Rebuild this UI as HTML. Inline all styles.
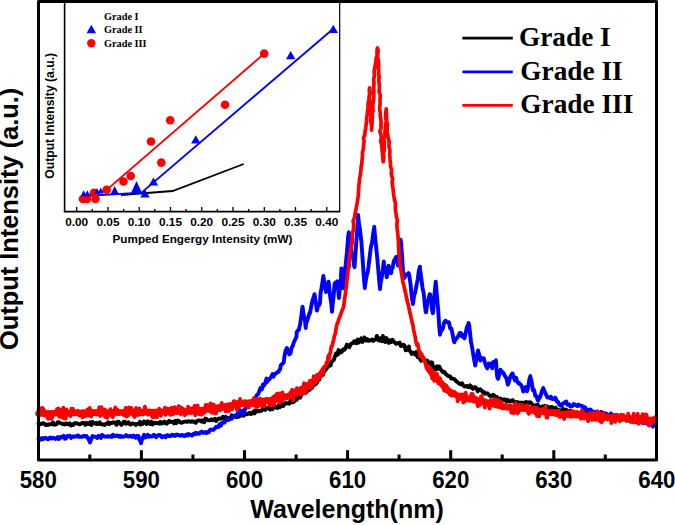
<!DOCTYPE html>
<html><head><meta charset="utf-8"><style>
html,body{margin:0;padding:0;background:#fff;}
body{width:675px;height:525px;overflow:hidden;}
svg{display:block;}
text{font-family:"Liberation Sans",sans-serif;font-weight:bold;}
.serif{font-family:"Liberation Serif",serif;font-weight:bold;}
</style></head><body>
<svg width="675" height="525" viewBox="0 0 675 525">
<rect width="675" height="525" fill="#fff"/>
<!-- curves -->
<g fill="none" stroke-width="3.4" stroke-linejoin="round" stroke-linecap="round">
<path stroke="#000" stroke-width="3.9" d="M38.5 423.7L39.7 424.5L40.9 423.8L42.1 423.7L43.3 423.1L44.5 423.8L45.7 425.1L46.9 424.4L48.1 425.0L49.3 424.2L50.5 424.3L51.7 424.1L52.9 422.3L54.1 424.8L55.3 424.4L56.5 424.4L57.7 422.2L58.9 422.2L60.1 423.0L61.3 423.4L62.5 424.2L63.7 423.8L64.9 424.4L66.1 423.2L67.3 424.1L68.5 424.2L69.7 423.2L70.9 425.5L72.1 424.4L73.3 425.0L74.5 423.2L75.7 423.1L76.9 423.4L78.1 423.7L79.3 424.4L80.5 424.0L81.7 423.3L82.9 422.8L84.1 423.2L85.3 424.9L86.5 422.9L87.7 424.0L88.9 424.1L90.0 422.2L90.1 423.7L91.3 425.0L92.5 421.9L93.7 423.4L94.9 423.6L96.1 422.8L97.3 424.1L98.5 423.6L99.7 422.2L100.9 424.4L102.1 424.3L103.3 424.5L104.5 425.0L105.7 423.9L106.9 423.7L108.1 422.3L109.3 424.2L110.5 422.9L111.7 423.1L112.9 422.3L114.1 422.5L115.3 423.0L116.5 424.8L117.7 421.7L118.9 422.0L120.1 423.7L121.3 424.9L122.5 424.0L123.7 421.6L124.9 421.6L126.1 423.8L127.3 422.7L128.5 422.3L129.7 424.3L130.9 424.5L132.1 423.5L133.3 423.6L134.5 423.8L135.7 424.9L136.9 423.9L138.1 423.8L139.3 423.8L140.0 421.7L140.5 424.6L141.7 424.2L142.9 423.7L144.1 421.4L145.3 422.5L146.5 423.9L147.7 421.2L148.9 422.8L150.1 424.0L151.3 421.6L152.5 424.5L153.7 423.4L154.9 422.6L156.1 423.1L157.3 423.3L158.5 422.8L159.7 423.7L160.0 421.9L160.9 422.1L162.1 423.5L163.3 422.5L164.5 421.5L165.7 423.3L166.9 423.7L168.1 421.8L169.3 420.8L170.5 422.0L171.7 421.9L172.9 421.7L174.1 423.4L175.3 420.9L176.5 423.1L177.7 420.5L178.9 421.0L180.1 422.3L181.3 422.8L182.5 422.4L183.7 421.9L184.9 421.6L186.1 421.6L187.3 421.9L188.5 421.1L189.7 421.5L190.9 421.8L192.1 421.1L193.3 421.8L194.5 421.6L195.7 422.8L196.9 421.2L198.1 420.4L199.3 420.4L200.5 420.8L201.7 421.6L201.9 420.4L202.9 421.0L204.1 422.3L205.3 418.5L206.5 419.1L207.7 420.3L208.9 420.4L210.1 420.1L211.3 419.3L212.5 420.2L213.7 419.7L214.9 418.8L216.1 421.0L217.3 419.4L218.5 418.4L219.7 418.7L220.9 418.5L222.1 418.5L222.9 416.7L223.3 417.9L224.5 419.2L225.7 416.9L226.9 417.7L228.1 418.5L229.3 418.2L230.5 418.6L231.7 415.3L232.9 416.4L234.1 416.2L235.3 416.9L236.5 417.2L237.7 414.1L238.9 416.8L240.0 414.1L240.1 416.1L241.3 413.7L242.5 415.0L243.7 415.7L244.9 414.0L246.1 414.1L247.3 414.3L248.5 413.4L249.7 412.8L250.9 414.1L252.1 413.3L253.3 411.7L254.5 413.4L255.0 410.4L255.7 412.3L256.9 410.8L258.1 411.0L259.3 411.3L260.5 410.6L261.7 410.7L262.9 408.3L264.1 408.1L265.3 409.9L266.5 408.1L267.7 407.8L268.9 407.1L270.1 409.6L271.3 408.8L272.5 409.3L273.7 406.6L274.0 407.5L274.9 406.1L276.1 407.6L277.3 408.0L278.5 405.2L279.7 407.3L280.9 406.3L282.0 404.8L282.1 403.2L283.3 405.9L284.5 403.9L285.7 403.0L286.9 403.5L288.1 403.1L289.3 403.7L290.5 400.7L291.7 402.4L292.9 402.3L294.1 401.8L295.0 399.8L295.3 399.0L296.5 399.9L297.7 398.1L298.9 397.2L300.1 397.6L301.3 395.0L302.5 392.5L303.7 393.1L304.9 390.7L306.1 392.4L307.3 391.0L308.5 389.2L309.6 389.0L309.7 389.7L310.9 387.7L312.1 387.7L313.3 385.0L314.5 384.8L315.7 384.0L316.9 382.9L318.1 379.3L319.3 379.6L320.0 376.2L320.5 376.2L321.7 373.8L322.9 374.9L324.1 370.9L325.3 370.4L326.5 368.5L327.7 367.0L328.9 364.7L330.1 363.9L330.7 365.5L331.3 361.9L332.5 361.1L333.7 360.1L334.9 356.7L336.1 353.4L337.3 352.8L337.8 354.7L338.5 350.0L339.7 350.8L340.9 352.5L342.1 351.3L343.3 349.3L344.5 349.7L345.7 347.9L346.7 345.2L346.9 344.5L348.1 345.4L349.3 347.3L350.5 344.4L351.7 343.4L352.9 343.0L354.1 341.3L355.3 343.0L355.6 341.2L356.5 343.3L357.7 339.5L358.9 342.5L360.1 340.6L361.3 338.4L362.5 341.9L363.7 340.0L364.4 337.4L364.9 338.8L366.1 340.4L367.3 339.0L368.5 340.8L369.7 340.5L370.9 340.2L372.1 339.5L373.3 340.9L374.5 339.8L375.7 339.4L376.9 335.9L378.1 340.0L379.3 340.6L380.5 338.1L381.7 337.8L382.2 341.3L382.9 336.0L384.1 339.7L385.3 342.0L386.5 338.1L387.7 340.9L388.9 342.9L390.1 340.2L391.1 341.5L391.3 342.1L392.5 339.8L393.7 341.5L394.9 342.6L396.1 343.9L397.3 343.1L398.5 343.3L399.7 342.5L400.0 343.6L400.9 346.1L402.1 345.6L403.3 344.8L404.5 345.5L405.7 350.3L406.9 349.9L408.1 349.8L408.9 346.5L409.3 350.5L410.5 351.2L411.7 353.9L412.9 352.8L414.1 352.9L415.3 354.6L416.5 351.9L417.7 357.1L417.8 356.1L418.9 355.3L420.1 359.2L421.3 360.8L422.5 356.7L423.7 358.7L424.9 361.0L426.1 361.7L426.7 361.2L427.3 360.6L428.5 365.6L429.7 365.0L430.9 362.3L432.1 362.7L433.3 368.1L434.5 367.6L435.6 369.5L435.7 368.0L436.9 366.3L438.1 368.8L439.3 366.5L440.5 369.3L441.7 370.8L442.9 372.2L444.1 371.8L445.3 373.3L445.9 374.3L446.5 374.6L447.7 375.7L448.9 376.2L450.1 376.5L451.3 378.5L452.5 378.6L453.7 378.6L454.9 379.7L456.1 381.2L457.3 381.9L458.5 383.1L459.7 383.8L460.0 384.2L460.9 384.2L462.1 383.4L463.3 385.5L464.5 386.5L465.7 386.3L466.9 386.0L468.1 387.0L469.3 386.0L470.0 385.4L470.5 387.4L471.7 386.8L472.9 388.9L474.1 387.5L475.3 387.2L476.5 388.4L477.7 391.3L478.9 389.8L480.1 389.2L481.3 390.2L482.5 391.9L483.7 392.3L484.0 392.1L484.9 393.7L486.1 393.5L487.3 393.3L488.5 394.4L489.7 395.9L490.9 395.8L492.1 396.3L493.3 394.7L494.5 396.1L495.7 397.5L496.9 397.0L498.1 398.9L499.3 398.9L500.0 399.5L500.5 398.5L501.7 400.7L502.9 400.4L504.1 399.2L505.3 399.8L506.5 401.7L507.7 399.8L508.9 401.3L510.1 401.6L511.3 400.9L512.5 400.0L513.7 401.5L514.4 401.9L514.9 402.7L516.1 402.5L517.3 402.0L518.5 402.9L519.7 402.8L520.9 402.7L522.1 402.7L523.3 402.6L524.5 403.7L525.7 402.1L526.9 402.7L528.0 403.5L528.1 402.1L529.3 403.4L530.5 402.3L531.7 403.7L532.9 405.3L534.1 405.6L535.3 405.3L536.5 405.4L537.7 404.5L538.9 408.0L540.1 407.0L541.3 407.9L542.5 406.3L543.7 407.2L544.9 405.9L546.0 408.8L546.1 408.9L547.3 406.4L548.5 408.3L549.7 409.1L550.9 406.9L552.1 407.0L553.3 407.9L554.5 408.4L555.7 407.8L556.9 409.4L558.1 409.8L559.3 410.3L560.5 410.5L561.7 411.5L562.0 411.2L562.9 408.9L564.1 410.0L565.3 409.7L566.5 410.0L567.7 411.3L568.9 411.6L570.1 412.4L570.4 410.4L571.3 410.9L572.5 412.3L573.7 412.3L574.9 412.4L576.1 412.8L577.3 412.3L578.5 413.9L579.7 413.8L580.9 413.5L582.1 413.1L583.3 413.8L584.5 412.4L585.7 413.4L586.9 414.6L588.1 413.2L589.3 415.1L590.5 415.2L591.7 413.9L592.9 415.2L594.1 415.3L595.3 416.3L596.5 416.6L597.7 416.2L598.9 415.5L600.1 416.4L601.3 416.7L602.5 417.7L603.0 417.3L603.7 416.3L604.9 415.8L606.1 416.9L607.3 416.6L608.5 416.4L609.7 417.4L610.9 417.2L612.1 417.9L613.3 418.4L614.5 417.5L615.7 419.9L616.9 417.8L618.1 419.3L619.3 418.5L620.5 419.6L621.7 416.7L622.9 417.9L624.1 419.0L625.3 419.4L626.5 420.7L627.7 419.4L628.9 420.4L630.1 420.0L631.3 420.3L632.5 419.9L633.7 419.4L634.9 420.1L636.1 418.7L637.3 421.0L638.5 418.9L639.7 420.3L640.9 421.9L642.1 420.0L643.3 420.4L644.5 421.6L645.7 420.6L646.9 419.8L648.1 421.0L649.3 421.4L650.5 421.6L651.7 420.3L652.9 422.9L654.1 422.9L655.0 421.3"/>
<path stroke="#0000ff" stroke-width="3.9" d="M38.5 439.0L39.7 438.4L40.9 439.8L42.1 438.0L43.3 439.0L44.5 438.0L45.7 437.8L46.9 438.8L48.1 439.3L49.3 438.1L50.5 437.5L51.7 438.6L52.9 437.8L54.1 438.0L55.3 439.0L56.5 438.6L57.7 437.1L58.9 439.0L60.0 437.4L60.1 438.0L61.3 436.8L62.5 437.3L63.7 435.8L64.9 438.7L66.1 438.3L67.3 436.1L68.5 435.8L69.7 435.6L70.9 437.9L72.1 436.5L73.3 436.8L74.5 436.5L75.7 436.6L76.9 435.8L78.0 436.6L78.1 435.4L79.3 436.5L80.5 436.8L81.7 436.9L82.9 436.3L84.1 435.7L85.3 436.6L86.5 436.0L87.5 437.7L87.7 437.6L88.9 440.0L90.0 442.6L90.1 442.2L91.3 438.8L92.5 436.1L93.7 436.6L94.9 436.8L96.1 436.9L97.3 437.9L98.5 435.8L99.7 436.4L100.9 437.9L102.1 434.9L103.3 435.9L104.5 436.5L105.7 436.5L106.9 436.7L108.1 436.1L109.3 436.6L110.5 436.4L111.7 437.0L112.9 434.8L114.1 435.6L115.3 436.3L116.5 435.5L117.7 435.4L118.9 436.8L120.0 435.8L120.1 436.8L121.3 436.9L122.5 436.5L123.7 436.7L124.9 436.2L126.1 435.1L127.3 436.2L128.5 436.6L129.7 435.8L130.9 436.2L132.1 436.9L133.3 435.5L134.5 436.7L135.7 437.7L136.9 435.8L138.1 436.3L138.5 436.1L139.3 439.5L140.5 441.5L141.0 443.2L141.7 440.2L142.9 437.7L143.5 436.2L144.1 434.7L145.3 437.4L146.5 436.9L147.7 434.7L148.9 436.7L150.1 436.0L151.3 436.5L152.5 436.4L153.7 434.8L154.9 435.9L156.1 437.3L157.3 435.6L158.5 435.2L159.7 434.9L160.0 435.0L160.9 436.2L162.1 437.3L163.3 436.2L164.5 436.1L165.7 437.3L166.9 435.3L168.1 435.2L169.3 436.1L170.5 436.1L171.7 434.8L172.9 434.6L174.1 435.8L175.3 435.7L176.5 434.4L177.7 435.2L178.9 434.9L180.1 435.7L181.0 435.2L181.3 435.2L182.5 434.9L183.7 435.9L184.9 436.1L186.1 434.6L187.3 435.5L188.5 434.0L189.7 434.6L190.9 435.1L192.1 435.6L193.3 433.9L194.5 434.1L195.0 434.3L195.7 432.8L196.9 433.8L198.1 433.1L199.3 433.7L200.5 432.3L201.7 431.5L202.9 432.9L204.1 432.9L205.3 432.0L206.5 433.0L207.7 431.9L208.3 431.5L208.9 432.1L210.1 429.7L211.3 429.7L212.5 429.6L213.7 429.7L214.5 428.4L214.9 428.5L216.1 426.8L217.3 426.8L218.5 427.1L219.7 424.3L220.9 425.6L221.7 423.0L222.1 423.3L223.3 422.7L224.5 422.6L225.7 420.0L226.9 418.8L228.1 420.1L229.3 419.5L230.5 418.7L231.7 418.9L232.9 416.8L234.1 416.2L235.0 416.2L235.3 415.5L236.5 415.9L237.7 412.9L238.9 412.9L240.1 410.2L241.3 413.0L242.5 410.8L243.7 411.8L243.9 412.9L244.9 409.4L246.1 407.7L247.3 406.1L248.5 404.3L249.7 403.3L250.9 403.6L252.1 401.5L253.3 400.2L254.5 398.6L254.8 399.7L255.7 397.7L256.9 395.0L258.1 394.2L259.3 391.2L260.5 388.0L261.7 389.5L262.7 386.6L262.9 384.5L264.1 385.5L265.3 382.8L266.5 378.6L266.7 382.5L267.7 380.1L268.9 380.0L270.1 378.2L271.3 376.8L272.5 374.1L273.7 376.6L273.8 375.2L274.9 373.8L276.1 373.5L277.3 372.1L278.5 371.8L279.7 369.3L280.0 369.5L280.9 365.0L282.1 364.1L283.3 362.8L283.7 362.8L284.5 356.2L285.7 350.0L286.2 349.8L286.9 348.0L288.1 351.3L289.3 354.4L290.0 353.1L290.5 353.4L291.7 347.5L292.9 345.6L293.0 344.9L294.1 341.7L295.3 339.3L296.5 336.5L296.7 332.3L297.7 330.6L298.9 329.8L299.5 326.5L300.1 324.5L301.3 316.2L302.5 306.6L303.7 315.3L304.9 319.8L305.7 328.1L306.1 323.4L307.3 320.4L308.5 316.4L309.7 312.5L310.0 313.2L310.9 308.1L312.1 302.1L313.3 298.1L314.3 295.2L314.5 294.1L315.7 302.0L316.9 310.6L317.1 310.4L318.1 304.7L319.3 305.0L320.0 302.6L320.5 293.7L321.7 287.2L322.9 278.9L323.4 276.0L324.1 280.6L325.3 288.0L326.0 292.0L326.5 291.7L327.7 288.2L328.6 281.6L328.9 284.3L330.1 296.0L331.3 303.7L332.0 311.9L332.5 306.4L333.7 295.0L334.6 283.9L334.9 283.2L336.1 282.4L337.2 281.4L337.3 281.5L338.5 293.3L338.9 298.0L339.7 289.8L340.9 277.4L341.4 268.4L342.1 275.5L343.2 284.0L343.3 288.3L344.5 274.0L345.7 264.3L346.9 252.4L348.1 237.0L348.8 232.2L349.3 235.2L350.5 241.5L351.3 250.4L351.7 253.8L352.9 255.9L354.1 266.0L354.5 267.3L355.3 256.2L356.5 238.9L357.7 222.8L358.1 214.9L358.9 222.8L360.1 230.4L361.0 239.1L361.3 240.8L362.5 257.5L363.7 275.7L364.8 288.2L364.9 286.8L366.1 278.9L367.3 272.9L367.6 272.7L368.5 266.6L369.7 256.4L370.5 250.2L370.9 247.1L372.1 242.2L373.3 232.8L374.3 226.8L374.5 231.0L375.7 242.4L376.9 254.6L377.1 256.3L378.1 267.6L379.3 281.9L380.0 289.1L380.5 283.5L381.7 277.7L382.9 269.2L383.8 261.5L384.1 265.4L385.3 269.4L386.5 274.8L386.7 277.3L387.7 273.1L388.6 265.7L388.9 267.7L390.1 267.5L391.3 273.0L391.4 269.8L392.5 268.3L393.7 261.5L394.9 259.3L395.2 259.7L396.1 256.9L397.3 262.1L398.1 265.5L398.5 260.2L399.7 246.1L400.6 239.7L400.9 241.5L402.1 256.2L403.3 276.9L403.4 274.6L404.5 277.9L405.7 274.4L406.9 274.5L408.1 275.1L408.6 273.1L409.3 275.8L410.5 283.7L411.7 296.2L412.9 304.0L414.1 295.7L415.3 292.0L416.5 285.5L417.7 279.6L418.9 270.0L420.0 266.7L420.1 269.2L421.3 278.3L422.5 287.8L423.7 293.3L424.9 305.4L425.7 312.1L426.1 312.3L427.3 303.2L428.5 298.9L429.7 294.2L430.0 294.2L430.9 298.9L432.1 310.0L432.9 313.2L433.3 310.0L434.5 294.7L435.7 281.6L436.9 295.2L438.1 308.6L439.3 327.3L440.0 334.7L440.5 332.2L441.7 330.3L442.9 328.4L444.1 322.6L445.3 320.8L445.7 320.8L446.5 322.0L447.7 322.5L448.9 322.2L450.1 328.4L451.3 328.9L451.4 328.6L452.5 333.6L453.7 340.3L454.3 342.3L454.9 340.5L456.1 339.1L457.3 337.5L458.5 335.7L459.7 333.1L460.0 335.2L460.9 333.0L462.1 336.6L463.3 335.0L464.3 337.6L464.5 338.4L465.7 332.8L466.9 327.5L468.1 324.6L468.6 323.1L469.3 326.0L470.5 337.2L471.0 342.2L471.7 345.1L472.9 352.2L474.1 359.6L475.2 365.5L475.3 365.2L476.5 359.0L477.7 351.9L478.1 350.4L478.9 353.6L480.1 358.9L480.4 360.5L481.3 357.7L482.5 358.7L483.3 358.5L483.7 358.2L484.9 362.5L486.1 366.2L486.3 365.8L487.3 368.4L488.5 363.6L489.7 365.7L490.9 363.6L492.1 367.3L492.2 368.4L493.3 362.0L494.5 362.9L495.7 361.7L495.9 360.3L496.9 374.3L497.4 377.6L498.1 378.9L499.3 374.4L500.4 370.4L500.5 369.7L501.7 372.5L502.9 372.2L504.1 374.3L505.3 376.7L506.5 378.3L507.7 384.1L507.8 384.7L508.9 382.4L510.1 377.1L511.3 375.0L512.2 373.4L512.5 373.4L513.7 377.2L514.9 380.4L515.9 378.8L516.1 377.7L517.3 381.8L518.5 383.3L518.9 382.7L519.7 384.2L520.9 384.7L522.1 387.0L523.3 391.6L524.5 388.7L525.7 387.0L526.9 387.6L527.0 391.3L528.1 387.4L529.3 379.9L530.4 376.0L530.5 377.8L531.7 382.0L532.9 390.2L533.0 388.8L534.1 390.0L535.3 395.9L536.5 396.2L537.7 400.1L538.1 400.7L538.9 398.7L540.1 397.2L541.3 393.4L542.5 389.6L543.3 388.0L543.7 389.4L544.9 392.0L546.1 394.8L547.0 396.4L547.3 397.3L548.5 397.7L549.7 397.4L550.7 398.4L550.9 396.8L552.1 398.6L553.3 399.1L554.5 398.7L555.2 397.6L555.7 398.3L556.9 401.5L558.1 401.9L559.3 404.6L560.4 405.7L560.5 405.3L561.7 405.6L562.9 403.5L564.1 403.0L565.3 402.0L566.3 401.5L566.5 403.6L567.7 404.8L568.9 404.3L570.0 405.7L570.1 406.2L571.3 405.8L572.5 406.1L573.7 404.1L574.9 404.5L576.1 405.4L577.3 406.2L577.8 405.1L578.5 404.6L579.7 405.5L580.9 405.7L582.1 406.0L583.3 408.4L584.5 407.1L585.7 408.1L586.9 410.1L588.1 410.0L589.3 409.8L590.5 409.5L591.7 410.8L592.9 412.3L594.1 411.9L595.3 412.9L595.6 412.1L596.5 412.6L597.7 412.2L598.9 412.9L600.1 413.8L601.3 411.8L602.5 413.1L603.7 413.6L604.9 413.1L606.1 413.5L607.3 414.6L608.5 415.7L609.7 414.9L610.4 414.8L610.9 413.4L612.1 416.5L613.3 415.3L614.5 415.6L615.7 415.0L616.9 416.2L618.1 415.7L619.3 416.9L620.5 417.6L621.7 417.5L622.9 418.1L624.1 417.5L625.3 419.7L626.5 418.3L627.7 417.6L628.9 419.3L630.1 419.1L631.0 419.2L631.3 419.8L632.5 420.6L633.7 419.6L634.9 420.8L636.1 422.3L637.3 422.0L638.5 421.6L639.7 422.1L640.9 422.2L642.1 422.5L643.3 423.4L644.5 423.0L645.7 421.9L646.9 423.6L648.1 423.2L649.3 424.7L650.5 424.0L651.7 424.9L652.9 426.5L654.1 424.4L655.0 424.6"/>
<path stroke="#ff0000" stroke-width="6.5" d="M38.5 413.5L90.0 412.7L140.0 412.2L195.0 411.3L221.7 407.0L240.0 404.0L248.3 403.0L255.0 401.7L274.0 400.0L293.0 395.0L300.0 391.5L309.6 385.0L320.0 375.5L322.0 372.5M428.0 367.6L428.6 368.6L434.1 376.3L448.9 391.1L460.0 397.0L482.0 401.5L504.0 406.8L527.0 408.8L549.0 412.5L560.0 414.0L603.0 417.0L655.0 420.5"/>
<path stroke="#ff0000" stroke-width="3.7" d="M38.5 409.2L39.3 408.0L40.1 408.0L40.9 414.6L41.7 411.5L42.5 407.9L43.3 408.9L44.1 415.3L44.9 411.1L45.7 412.3L46.5 414.4L47.3 417.5L48.1 418.9L48.9 416.5L49.7 413.8L50.5 413.9L51.3 418.8L52.1 417.6L52.9 412.3L53.7 414.6L54.5 414.1L55.3 413.4L56.1 411.7L56.9 409.2L57.7 411.6L58.5 408.5L59.3 416.9L60.1 414.8L60.9 409.5L61.7 417.4L62.5 415.8L63.3 407.6L64.1 418.6L64.9 415.5L65.7 418.6L66.5 409.3L67.3 414.7L68.1 414.3L68.9 413.6L69.7 413.5L70.5 416.2L71.3 408.5L72.1 409.2L72.9 408.7L73.7 411.3L74.5 411.1L75.3 414.0L76.1 413.7L76.9 413.0L77.7 410.8L78.5 411.5L79.3 415.7L80.1 415.2L80.9 413.1L81.7 411.9L82.5 417.5L83.3 411.0L84.1 414.8L84.9 416.3L85.7 412.0L86.5 415.3L87.3 409.4L88.1 415.8L88.9 413.3L89.7 407.9L90.0 414.7L90.5 410.0L91.3 416.6L92.1 410.6L92.9 412.2L93.7 413.5L94.5 411.6L95.3 413.4L96.1 411.0L96.9 414.7L97.7 412.6L98.5 413.3L99.3 407.1L100.1 416.1L100.9 412.7L101.7 407.2L102.5 412.9L103.3 414.0L104.1 415.8L104.9 409.3L105.7 417.2L106.5 412.1L107.3 418.0L108.1 412.1L108.9 414.6L109.7 411.4L110.5 409.1L111.3 415.8L112.1 415.2L112.9 417.1L113.7 415.1L114.5 410.7L115.3 407.4L116.1 410.5L116.9 410.4L117.7 410.0L118.5 414.2L119.3 413.4L120.1 411.6L120.9 412.9L121.7 411.9L122.5 413.0L123.3 414.6L124.1 415.3L124.9 410.3L125.7 407.8L126.5 416.7L127.3 412.7L128.1 415.7L128.9 407.3L129.7 411.3L130.5 412.4L131.3 407.9L132.1 410.7L132.9 414.5L133.7 415.5L134.5 417.1L135.3 409.6L136.1 408.0L136.9 413.8L137.7 415.1L138.5 412.8L139.3 408.3L140.0 414.6L140.1 414.6L140.9 413.9L141.7 410.7L142.5 413.1L143.3 414.5L144.1 410.4L144.9 406.6L145.7 413.1L146.5 413.5L147.3 412.1L148.1 414.8L148.9 410.3L149.7 411.8L150.5 411.1L151.3 413.7L152.1 416.8L152.9 411.2L153.7 417.5L154.5 416.6L155.3 414.3L156.1 413.7L156.9 417.3L157.7 411.4L158.5 411.6L159.3 408.7L160.1 413.3L160.9 415.9L161.7 413.5L162.5 413.1L163.3 411.2L164.1 412.3L164.9 407.5L165.7 415.0L166.5 410.5L167.3 408.4L168.1 409.5L168.9 409.2L169.7 414.3L170.5 414.9L171.3 407.6L172.1 414.5L172.9 414.3L173.7 409.9L174.5 407.1L175.3 409.4L176.1 409.7L176.9 412.6L177.7 410.5L178.5 406.1L179.3 412.3L180.1 406.9L180.9 414.3L181.7 407.9L182.5 409.4L183.3 408.9L184.1 409.8L184.9 415.4L185.7 414.0L186.5 413.3L187.3 412.4L188.1 406.7L188.9 409.8L189.7 409.7L190.5 408.4L191.3 412.9L192.1 409.1L192.9 409.2L193.7 408.2L194.5 405.8L195.0 413.1L195.3 415.3L196.1 411.7L196.9 408.0L197.7 405.4L198.5 411.3L199.3 414.3L200.1 411.4L200.9 413.2L201.7 414.7L202.5 413.5L203.3 408.6L204.1 413.0L204.9 412.1L205.7 404.9L206.5 408.2L207.3 405.0L208.1 408.9L208.9 410.8L209.7 405.7L210.5 403.3L211.3 412.6L212.1 409.7L212.9 412.9L213.7 404.3L214.5 411.4L215.3 413.5L216.1 413.4L216.9 407.1L217.7 408.5L218.5 407.0L219.3 410.4L220.1 410.4L220.9 407.4L221.7 402.9L222.5 409.1L223.3 405.3L224.1 408.5L224.9 407.3L225.7 411.3L226.5 409.7L227.3 404.7L228.1 407.0L228.9 411.2L229.7 404.1L230.5 406.9L231.3 409.0L232.1 409.1L232.9 406.7L233.7 401.0L234.5 401.1L235.3 405.5L236.1 405.8L236.9 410.0L237.7 401.8L238.5 407.7L239.3 406.4L240.0 398.9L240.1 401.5L240.9 404.4L241.7 402.3L242.5 403.2L243.3 405.0L244.1 401.1L244.9 404.8L245.7 401.4L246.5 401.6L247.3 404.7L248.1 401.3L248.3 403.9L248.9 407.7L249.7 402.8L250.5 402.1L251.3 404.6L252.1 401.2L252.9 405.4L253.7 398.1L254.5 403.7L255.0 400.2L255.3 399.3L256.1 407.0L256.9 399.0L257.7 406.8L258.5 403.4L259.3 405.7L260.1 398.3L260.9 404.8L261.7 405.5L262.5 400.7L263.3 400.6L264.1 406.4L264.9 401.4L265.7 399.5L266.5 398.8L267.3 401.9L268.1 401.5L268.9 401.0L269.7 405.6L270.5 399.3L271.3 401.7L272.1 404.6L272.9 397.1L273.7 403.2L274.0 405.5L274.5 395.8L275.3 396.3L276.1 396.3L276.9 393.7L277.7 400.4L278.5 393.3L279.3 400.1L280.1 402.8L280.9 393.3L281.7 397.0L282.5 392.3L283.3 399.9L284.1 395.1L284.9 396.3L285.7 397.1L286.5 398.4L287.3 395.5L288.1 396.3L288.9 394.4L289.7 396.2L290.5 392.1L291.3 395.6L292.1 389.7L292.9 393.5L293.0 400.5L293.7 394.9L294.5 390.4L295.3 394.6L296.1 390.5L296.9 388.1L297.7 390.4L298.5 394.5L299.3 393.0L300.0 391.2L300.1 388.6L300.9 387.6L301.7 394.4L302.5 390.5L303.3 386.4L304.1 383.2L304.9 384.0L305.7 393.1L306.5 383.6L307.3 386.3L308.1 386.7L308.9 385.0L309.6 384.2L309.7 380.8L310.5 381.0L311.3 388.6L312.1 380.4L312.9 384.5L313.7 376.1L314.5 379.7L315.3 380.6L316.1 382.2L316.9 374.9L317.7 379.4L318.5 378.0L319.3 373.9L320.0 376.9L320.1 373.9L320.9 372.8L321.7 372.9L322.5 368.8L323.3 370.4L324.0 367.8L324.1 366.8L324.9 366.5L325.7 366.3L326.5 362.3L327.3 363.0L328.1 356.9L328.6 355.3L328.9 359.0L329.7 354.2L330.5 352.2L331.3 346.4L332.1 346.2L332.9 342.4L333.7 339.7L334.5 335.3L335.3 333.9L336.1 328.2L336.9 324.7L337.1 323.6L337.7 323.2L338.5 320.2L339.3 318.0L340.1 315.9L340.9 314.0L341.7 311.5L342.5 309.8L343.3 307.5L343.6 306.8L344.1 302.6L344.9 296.7L345.5 293.4L345.7 290.1L346.4 287.1L346.5 284.0L347.0 280.1L347.3 277.5L347.7 273.4L348.1 269.4L349.3 266.2L348.9 262.8L349.4 258.2L349.7 257.0L349.9 254.0L350.5 250.9L351.2 246.9L351.3 246.1L352.3 242.4L352.1 238.6L352.2 235.1L352.9 231.6L353.6 228.1L353.6 224.4L353.7 224.3L353.1 220.9L354.5 217.8L355.3 212.2L355.6 211.4L356.1 208.5L356.9 204.4L357.7 200.1L358.2 195.9L358.5 191.7L358.7 188.7L358.8 185.6L359.3 182.5L359.4 182.4L359.4 179.3L360.1 176.2L360.9 170.6L361.1 167.2L361.7 163.9L362.0 160.7L362.5 155.9L362.5 152.3L363.3 148.8L363.7 144.2L364.1 141.0L363.5 137.8L364.9 134.9L365.0 131.5L365.7 128.3L366.3 123.5L366.5 121.9L366.6 118.3L367.3 114.6L367.4 111.3L368.1 108.0L368.0 103.9L368.9 100.0L369.0 97.0L369.6 93.9L369.3 90.8L369.6 87.8L369.7 89.9L370.1 93.4L369.3 96.8L369.7 100.3L369.9 103.7L370.5 107.1L370.1 110.5L371.0 113.9L371.0 117.2L370.6 120.7L371.3 124.0L371.7 127.0L371.6 130.1L371.7 126.8L372.1 123.5L372.1 120.2L372.4 117.1L372.3 113.9L373.1 110.7L372.7 107.5L372.9 104.4L373.4 101.2L373.8 98.0L373.7 94.8L373.9 91.6L373.7 88.4L374.0 82.8L373.7 79.0L374.5 75.3L374.1 71.7L374.7 68.2L375.3 64.7L375.9 61.6L376.1 58.4L377.2 55.3L376.9 52.1L377.4 47.8L378.2 50.9L377.7 54.1L377.7 57.7L378.5 61.3L378.7 64.9L378.5 68.5L378.8 73.7L379.1 77.3L378.8 80.9L379.3 84.4L379.4 88.1L379.1 91.9L380.3 95.5L380.0 99.2L380.1 104.1L379.7 107.1L379.8 110.1L380.3 113.1L380.2 116.2L380.8 119.2L381.1 122.2L380.9 125.2L381.1 128.2L379.8 131.3L380.9 134.3L381.4 137.7L380.6 141.3L381.7 144.7L382.0 149.1L382.5 153.4L382.7 157.6L383.2 161.7L383.3 160.7L383.9 157.1L383.3 153.4L384.4 149.8L384.1 146.1L384.5 142.6L383.7 139.0L385.0 135.6L384.9 132.1L385.4 128.5L385.5 124.9L386.3 121.4L385.7 117.8L385.7 113.4L386.2 108.9L386.5 114.6L386.4 117.7L386.5 120.8L387.5 123.8L387.3 126.9L387.0 131.0L387.8 135.1L388.1 137.4L389.2 141.8L388.9 146.4L389.9 150.5L389.7 154.7L390.1 159.9L390.5 163.3L390.5 166.5L391.6 169.6L391.3 172.9L391.6 175.9L392.7 178.8L392.1 181.9L392.4 185.3L392.9 187.9L393.3 191.3L393.7 194.7L394.5 199.7L395.5 203.2L395.3 206.8L395.5 210.3L396.1 213.7L396.2 215.7L397.3 220.0L396.9 224.3L397.1 228.7L397.7 232.9L398.1 237.7L398.4 241.3L398.5 245.0L398.6 248.0L398.9 251.0L398.9 254.1L399.8 257.1L399.3 260.1L399.5 263.3L400.1 265.9L400.9 269.8L401.7 274.6L402.5 279.8L403.0 282.8L403.3 283.2L404.1 286.6L404.9 290.3L405.7 293.3L406.5 298.1L407.0 299.5L407.3 301.8L408.1 304.0L408.9 307.6L409.7 311.7L410.5 314.7L411.3 318.9L412.1 322.1L412.9 325.2L413.7 330.1L414.5 334.2L415.3 337.2L415.7 340.8L416.1 342.2L416.9 345.2L417.7 343.7L418.5 348.1L419.3 351.4L420.0 356.1L420.1 352.1L420.9 354.3L421.7 354.1L422.5 358.1L423.3 360.4L424.1 358.3L424.9 361.5L425.7 364.6L426.5 367.7L427.3 367.5L428.1 367.3L428.6 366.7L428.9 367.5L429.7 369.0L430.5 371.7L431.3 372.2L432.1 378.5L432.9 375.5L433.7 372.5L434.1 381.0L434.5 379.6L435.3 377.8L436.1 376.1L436.9 373.6L437.7 376.8L438.5 383.5L439.3 379.1L440.1 378.3L440.9 383.7L441.7 384.6L442.5 386.5L443.3 387.5L444.1 390.6L444.9 384.6L445.7 390.9L446.5 385.7L447.3 391.6L448.1 390.8L448.9 391.8L449.7 394.5L450.5 391.9L451.3 395.7L452.1 395.4L452.9 393.6L453.7 391.9L454.5 391.8L455.3 392.9L456.1 394.3L456.9 395.3L457.7 401.3L458.5 398.1L459.3 399.0L460.0 394.4L460.1 394.9L460.9 396.2L461.7 397.9L462.5 394.4L463.3 402.6L464.1 396.1L464.9 401.3L465.7 392.7L466.5 398.3L467.3 399.3L468.1 399.2L468.9 400.6L469.7 399.8L470.5 399.6L471.3 393.8L472.1 397.3L472.9 394.1L473.7 401.7L474.5 400.9L475.3 399.5L476.1 397.8L476.9 398.7L477.7 406.1L478.5 406.0L479.3 400.8L480.1 405.0L480.9 396.5L481.7 395.9L482.0 400.0L482.5 399.0L483.3 400.1L484.1 402.6L484.9 407.7L485.7 400.4L486.5 402.7L487.3 403.6L488.1 402.9L488.9 406.0L489.7 408.7L490.5 399.8L491.3 404.2L492.1 403.1L492.9 405.2L493.7 399.7L494.5 399.2L495.3 399.2L496.1 406.5L496.9 405.7L497.7 405.5L498.5 400.0L499.3 404.5L500.1 403.6L500.9 401.8L501.7 403.5L502.5 408.5L503.3 408.3L504.0 406.7L504.1 408.4L504.9 405.1L505.7 407.2L506.5 407.1L507.3 408.8L508.1 406.9L508.9 406.8L509.7 406.9L510.5 405.4L511.3 412.9L512.1 409.1L512.9 408.9L513.7 413.1L514.5 412.0L515.3 403.1L516.1 410.0L516.9 410.5L517.7 413.5L518.5 412.0L519.3 410.5L520.1 404.6L520.9 405.6L521.7 409.2L522.5 409.9L523.3 405.4L524.1 407.4L524.9 407.4L525.7 408.9L526.5 409.8L527.0 407.9L527.3 405.1L528.1 412.7L528.9 413.9L529.7 408.9L530.5 412.5L531.3 410.9L532.1 411.7L532.9 411.2L533.7 407.6L534.5 411.8L535.3 413.3L536.1 407.6L536.9 416.0L537.7 416.1L538.5 416.2L539.3 416.4L540.1 413.2L540.9 410.1L541.7 409.5L542.5 408.9L543.3 411.9L544.1 411.6L544.9 413.8L545.7 406.4L546.5 417.6L547.3 417.7L548.1 412.3L548.9 414.5L549.0 413.9L549.7 413.4L550.5 412.1L551.3 412.4L552.1 410.4L552.9 413.6L553.7 413.1L554.5 414.2L555.3 410.8L556.1 413.6L556.9 413.7L557.7 415.5L558.5 410.6L559.3 415.2L560.0 417.0L560.1 415.8L560.9 412.9L561.7 412.6L562.5 413.5L563.3 416.4L564.1 419.0L564.9 413.9L565.7 412.5L566.5 415.6L567.3 415.1L568.1 411.8L568.9 412.4L569.7 414.4L570.5 416.8L571.3 411.2L572.1 411.8L572.9 416.4L573.7 411.3L574.5 415.3L575.3 416.1L576.1 414.8L576.9 412.1L577.7 415.1L578.5 414.3L579.3 416.4L580.1 412.9L580.9 418.8L581.7 410.4L582.5 415.0L583.3 415.6L584.1 418.6L584.9 413.9L585.7 417.4L586.5 414.1L587.3 418.1L588.1 421.2L588.9 414.8L589.7 417.4L590.5 413.3L591.3 419.1L592.1 419.9L592.9 416.4L593.7 412.9L594.5 417.6L595.3 419.9L596.1 419.8L596.9 419.0L597.7 411.1L598.5 414.6L599.3 421.0L600.1 413.1L600.9 420.3L601.7 422.4L602.5 419.3L603.0 420.4L603.3 416.0L604.1 413.4L604.9 416.8L605.7 416.6L606.5 417.1L607.3 419.4L608.1 416.9L608.9 418.0L609.7 418.7L610.5 417.5L611.3 423.1L612.1 419.0L612.9 417.9L613.7 417.1L614.5 415.9L615.3 421.9L616.1 418.3L616.9 414.7L617.7 416.3L618.5 417.6L619.3 416.7L620.1 421.4L620.9 414.7L621.7 419.7L622.5 418.7L623.3 414.8L624.1 418.6L624.9 418.2L625.7 420.0L626.5 417.2L627.3 419.6L628.1 413.7L628.9 415.5L629.7 421.2L630.5 422.0L631.3 418.9L632.1 417.1L632.9 422.3L633.7 413.6L634.5 416.7L635.3 421.2L636.1 421.2L636.9 416.2L637.7 413.8L638.5 423.8L639.3 419.9L640.1 416.8L640.9 419.7L641.7 422.3L642.5 414.2L643.3 423.1L644.1 422.0L644.9 414.3L645.7 422.2L646.5 414.5L647.3 423.4L648.1 421.2L648.9 425.6L649.7 418.3L650.5 420.2L651.3 423.4L652.1 418.4L652.9 418.2L653.7 419.3L654.5 420.2L655.0 417.2"/>
</g>
<!-- inset -->
<rect x="64.5" y="2" width="275.2" height="209.3" fill="#fff" stroke="none"/>
<g stroke="#000" fill="none">
<line x1="64.6" y1="2" x2="64.6" y2="211.9" stroke-width="1.6"/>
<line x1="63.8" y1="211.6" x2="340.2" y2="211.6" stroke-width="1.8"/>
<line x1="339.7" y1="2" x2="339.7" y2="212" stroke-width="1.2"/>
<g stroke-width="1.3"><line x1="76.7" y1="207" x2="76.7" y2="211" /><line x1="92.3" y1="209" x2="92.3" y2="211" /><line x1="108.0" y1="207" x2="108.0" y2="211" /><line x1="123.6" y1="209" x2="123.6" y2="211" /><line x1="139.2" y1="207" x2="139.2" y2="211" /><line x1="154.8" y1="209" x2="154.8" y2="211" /><line x1="170.5" y1="207" x2="170.5" y2="211" /><line x1="186.1" y1="209" x2="186.1" y2="211" /><line x1="201.7" y1="207" x2="201.7" y2="211" /><line x1="217.4" y1="209" x2="217.4" y2="211" /><line x1="233.0" y1="207" x2="233.0" y2="211" /><line x1="248.6" y1="209" x2="248.6" y2="211" /><line x1="264.3" y1="207" x2="264.3" y2="211" /><line x1="279.9" y1="209" x2="279.9" y2="211" /><line x1="295.5" y1="207" x2="295.5" y2="211" /><line x1="311.2" y1="209" x2="311.2" y2="211" /><line x1="326.8" y1="207" x2="326.8" y2="211" /></g>
</g>
<g font-size="11.8" text-anchor="middle" fill="#000"><text x="76.7" y="225.8">0.00</text><text x="108.0" y="225.8">0.05</text><text x="139.2" y="225.8">0.10</text><text x="170.5" y="225.8">0.15</text><text x="201.7" y="225.8">0.20</text><text x="233.0" y="225.8">0.25</text><text x="264.3" y="225.8">0.30</text><text x="295.5" y="225.8">0.35</text><text x="326.8" y="225.8">0.40</text></g>
<text x="202.5" y="243" font-size="11.7" text-anchor="middle">Pumped Engergy Intensity (mW)</text>
<text transform="translate(54.3,115.8) rotate(-90)" font-size="12.2" text-anchor="middle">Output Intensity (a.u.)</text>
<!-- inset fit lines -->
<g fill="none" stroke-width="1.85">
<polyline stroke="#000" points="121,195 172.6,191 243.7,164"/>
<polyline stroke="#ff0000" points="88,195 106,190.5 264.2,53.6"/>
<polyline stroke="#0000ff" points="84,196 141.5,192.6 333.3,28.8"/>
</g>
<g fill="#ff0000"><circle cx="82.9" cy="199.0" r="4.3"/><circle cx="87.0" cy="199.0" r="4.3"/><circle cx="94.0" cy="192.7" r="4.3"/><circle cx="95.5" cy="199.0" r="4.3"/><circle cx="106.6" cy="189.7" r="4.3"/><circle cx="123.5" cy="181.5" r="4.3"/><circle cx="130.7" cy="176.0" r="4.3"/><circle cx="151.0" cy="141.5" r="4.3"/><circle cx="161.3" cy="162.6" r="4.3"/><circle cx="170.2" cy="120.2" r="4.3"/><circle cx="225.0" cy="104.7" r="4.3"/><circle cx="264.2" cy="53.6" r="4.3"/></g>
<g fill="#0000ff"><path d="M83.6 190.2L86.6 196.2L80.6 196.2Z"/><path d="M87.3 190.2L90.3 196.2L84.3 196.2Z"/><path d="M97.0 188.0L100.0 194.0L94.0 194.0Z"/><path d="M100.7 187.6L103.7 193.6L97.7 193.6Z"/><path d="M114.7 186.0L118.7 194.0L110.7 194.0Z"/><path d="M136.5 181.0L142.0 193.0L131.0 193.0Z"/><path d="M145.0 189.4L149.7 197.6L140.3 197.6Z"/><path d="M153.5 177.4L158.2 185.6L148.8 185.6Z"/><path d="M195.8 135.3L200.5 143.5L191.1 143.5Z"/><path d="M290.7 51.1L295.4 59.3L286.0 59.3Z"/><path d="M333.3 24.7L338.0 32.9L328.6 32.9Z"/></g>
<!-- inset legend -->
<g class="serif" font-size="10.3" fill="#000">
<text class="serif" x="104" y="19.8">Grade I</text>
<text class="serif" x="104" y="33.2">Grade II</text>
<text class="serif" x="104" y="46.5">Grade III</text>
</g>
<path d="M91.3 24.8L96 33.2L86.6 33.2Z" fill="#0000ff"/>
<circle cx="91.3" cy="43.2" r="4.2" fill="#ff0000"/>
<!-- main frame -->
<rect x="38.5" y="1.5" width="618" height="458.6" fill="none" stroke="#000" stroke-width="3" stroke-linejoin="round"/>
<g stroke="#000" stroke-width="3"><line x1="89.8" y1="454.5" x2="89.8" y2="459" /><line x1="141.4" y1="450.2" x2="141.4" y2="459" /><line x1="192.9" y1="454.5" x2="192.9" y2="459" /><line x1="244.5" y1="450.2" x2="244.5" y2="459" /><line x1="296.1" y1="454.5" x2="296.1" y2="459" /><line x1="347.6" y1="450.2" x2="347.6" y2="459" /><line x1="399.1" y1="454.5" x2="399.1" y2="459" /><line x1="450.7" y1="450.2" x2="450.7" y2="459" /><line x1="502.2" y1="454.5" x2="502.2" y2="459" /><line x1="553.8" y1="450.2" x2="553.8" y2="459" /><line x1="605.3" y1="454.5" x2="605.3" y2="459" /></g>
<g font-size="24.2" text-anchor="middle" fill="#000"><text transform="translate(38.3,487.6) scale(0.92,1)">580</text><text transform="translate(141.4,487.6) scale(0.92,1)">590</text><text transform="translate(244.5,487.6) scale(0.92,1)">600</text><text transform="translate(347.6,487.6) scale(0.92,1)">610</text><text transform="translate(450.7,487.6) scale(0.92,1)">620</text><text transform="translate(553.8,487.6) scale(0.92,1)">630</text><text transform="translate(656.9,487.6) scale(0.92,1)">640</text></g>
<text x="347" y="518" font-size="25" text-anchor="middle">Wavelength(nm)</text>
<text transform="translate(18.2,218.9) rotate(-90)" font-size="25.4" text-anchor="middle">Output Intensity (a.u.)</text>
<!-- main legend -->
<g stroke-width="2.6">
<line x1="462.4" y1="38.1" x2="512.8" y2="38.1" stroke="#000"/>
<line x1="462.4" y1="71.9" x2="512.8" y2="71.9" stroke="#0000ff"/>
<line x1="462.4" y1="105.4" x2="512.8" y2="105.4" stroke="#ff0000"/>
</g>
<g font-size="27.3" fill="#000">
<text class="serif" x="519" y="46.1">Grade I</text>
<text class="serif" x="520.3" y="79.6">Grade II</text>
<text class="serif" x="520.3" y="113.4">Grade III</text>
</g>
</svg>
</body></html>
